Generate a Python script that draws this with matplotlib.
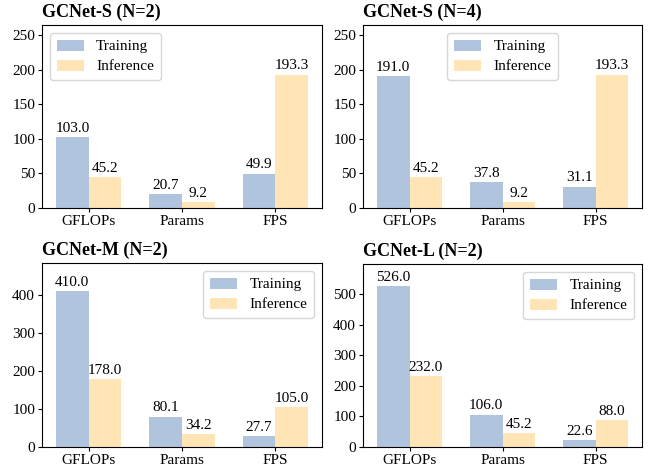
import matplotlib
matplotlib.use("Agg")
import matplotlib.pyplot as plt
from matplotlib.ticker import MultipleLocator
import numpy as np

plt.rcParams['font.family'] = ['Liberation Serif', 'DejaVu Serif']

categories = ["GFLOPs", "Params", "FPS"]
titles = ["GCNet-S (N=2)", "GCNet-S (N=4)", "GCNet-M (N=2)", "GCNet-L (N=2)"]
training = [
    [103.0, 20.7, 49.9],
    [191.0, 37.8, 31.1],
    [410.0, 80.1, 27.7],
    [526.0, 106.0, 22.6],
]
inference = [
    [45.2, 9.2, 193.3],
    [45.2, 9.2, 193.3],
    [178.0, 34.2, 105.0],
    [232.0, 45.2, 88.0],
]
ylims = [265, 265, 484, 598]
ysteps = [50, 50, 100, 100]
legend_locs = ["upper left", "upper center", "upper right", "upper right"]

c_train = "#B0C4DE"
c_inf = "#FFE4B5"

fig = plt.figure(figsize=(6.51, 4.67), dpi=100)
W, H = 651, 467
boxes = [(42, 25, 322, 208), (363, 25, 642, 208), (42, 263, 322, 447), (363, 264, 642, 447)]
x = np.arange(len(categories))
w = 0.35
for i, (l, t, r, b) in enumerate(boxes):
    ax = fig.add_axes([l / W, 1 - b / H, (r - l) / W, (b - t) / H])
    b1 = ax.bar(x - w / 2, training[i], w, color=c_train, label="Training")
    b2 = ax.bar(x + w / 2, inference[i], w, color=c_inf, label="Inference")
    for bars, vals in ((b1, training[i]), (b2, inference[i])):
        for rect, v in zip(bars, vals):
            ax.annotate(f"{v:.1f}", (rect.get_x() + rect.get_width() / 2, rect.get_height()),
                        xytext=(0, 1.5), textcoords="offset points",
                        ha="center", va="bottom", fontsize=11)
    ax.set_xlim(-0.5, 2.5)
    ax.set_ylim(0, ylims[i])
    ax.yaxis.set_major_locator(MultipleLocator(ysteps[i]))
    ax.set_xticks(x)
    ax.set_xticklabels(categories, fontsize=11)
    ax.tick_params(axis='both', labelsize=11, length=3, pad=2)
    ax.set_title(titles[i], loc="left", fontsize=13, fontweight="bold", pad=6)
    ax.legend(loc=legend_locs[i], fontsize=11, handlelength=1.8, handleheight=0.75,
              borderpad=0.45, labelspacing=0.4, handletextpad=0.8)

fig.savefig("out.png", dpi=100)
